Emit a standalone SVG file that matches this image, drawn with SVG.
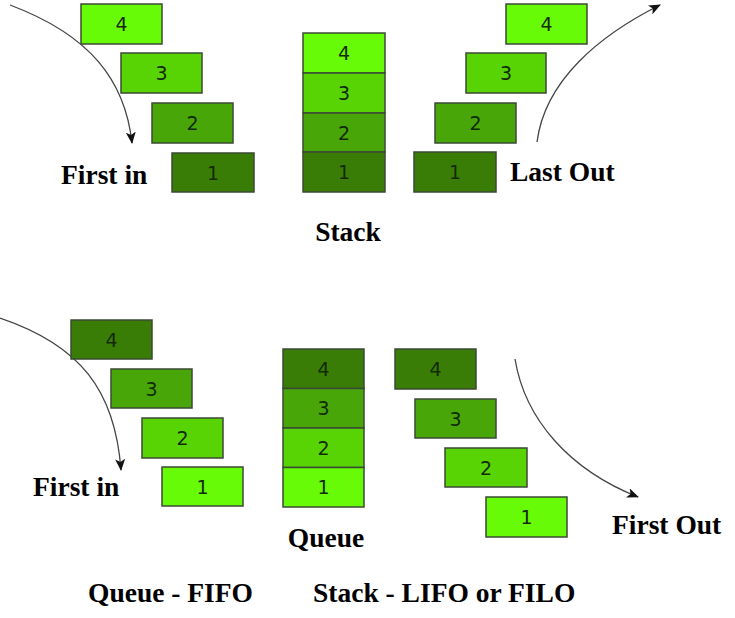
<svg xmlns="http://www.w3.org/2000/svg" width="735" height="618" viewBox="0 0 735 618">
<defs>
<style>
.b{stroke:#3b4a35;stroke-width:1.5}
.c1{fill:#68fb08}.c2{fill:#58d404}.c3{fill:#48a608}.c4{fill:#3a7d06}
.n{font-family:"DejaVu Sans",sans-serif;font-size:19px;fill:#132a05;text-anchor:middle}
.t{font-family:"Liberation Serif","Times New Roman",serif;font-weight:bold;font-size:27.5px;fill:#000}
.a{fill:none;stroke:#444;stroke-width:1.3}
</style>
<marker id="ah" viewBox="0 0 12 10" refX="11" refY="5" markerWidth="12" markerHeight="10" markerUnits="userSpaceOnUse" orient="auto">
<path d="M0,0 L12,5 L0,10 L3,5 Z" fill="#111"/>
</marker>
</defs>
<rect width="735" height="618" fill="#fff"/>

<g id="connectors">
<path class="a" d="M10,5 C90,35 125,80 132,143" marker-end="url(#ah)"/>
<path class="a" d="M537,142 C545,80 600,35 660,5" marker-end="url(#ah)"/>
<path class="a" d="M0,318 C80,345 115,390 121,470" marker-end="url(#ah)"/>
<path class="a" d="M515,359 C525,420 570,470 638,497" marker-end="url(#ah)"/>
</g>

<g id="stack-in">
<g id="si4"><rect class="b c1" x="81" y="4" width="81" height="40"/><text class="n" x="121.5" y="31">4</text></g>
<g id="si3"><rect class="b c2" x="121" y="53" width="81" height="40"/><text class="n" x="161.5" y="80">3</text></g>
<g id="si2"><rect class="b c3" x="152" y="103" width="81" height="40"/><text class="n" x="192.5" y="130">2</text></g>
<g id="si1"><rect class="b c4" x="172" y="153" width="82" height="39"/><text class="n" x="213" y="179.5">1</text></g>
</g>

<g id="stack">
<g id="s4"><rect class="b c1" x="303" y="33" width="82" height="40"/><text class="n" x="344" y="60">4</text></g>
<g id="s3"><rect class="b c2" x="303" y="73" width="82" height="40"/><text class="n" x="344" y="100">3</text></g>
<g id="s2"><rect class="b c3" x="303" y="113" width="82" height="39"/><text class="n" x="344" y="139.5">2</text></g>
<g id="s1"><rect class="b c4" x="303" y="152" width="82" height="40"/><text class="n" x="344" y="179">1</text></g>
</g>

<g id="stack-out">
<g id="so4"><rect class="b c1" x="506" y="4" width="81" height="40"/><text class="n" x="546.5" y="31">4</text></g>
<g id="so3"><rect class="b c2" x="466" y="53" width="80" height="40"/><text class="n" x="506" y="80">3</text></g>
<g id="so2"><rect class="b c3" x="435" y="103" width="81" height="40"/><text class="n" x="475.5" y="130">2</text></g>
<g id="so1"><rect class="b c4" x="414" y="152" width="82" height="40"/><text class="n" x="455" y="179">1</text></g>
</g>

<g id="queue-in">
<g id="qi4"><rect class="b c4" x="71" y="320" width="81" height="39"/><text class="n" x="111.5" y="346.5">4</text></g>
<g id="qi3"><rect class="b c3" x="111" y="369" width="81" height="39"/><text class="n" x="151.5" y="395.5">3</text></g>
<g id="qi2"><rect class="b c2" x="142" y="418" width="81" height="40"/><text class="n" x="182.5" y="445">2</text></g>
<g id="qi1"><rect class="b c1" x="162" y="467" width="81" height="39"/><text class="n" x="202.5" y="493.5">1</text></g>
</g>

<g id="queue">
<g id="q4"><rect class="b c4" x="283" y="349" width="81" height="39.5"/><text class="n" x="323.5" y="375.5">4</text></g>
<g id="q3"><rect class="b c3" x="283" y="388.5" width="81" height="39.5"/><text class="n" x="323.5" y="415">3</text></g>
<g id="q2"><rect class="b c2" x="283" y="428" width="81" height="39.5"/><text class="n" x="323.5" y="454.5">2</text></g>
<g id="q1"><rect class="b c1" x="283" y="467.5" width="81" height="39.5"/><text class="n" x="323.5" y="494">1</text></g>
</g>

<g id="queue-out">
<g id="qo4"><rect class="b c4" x="395" y="349" width="81" height="40"/><text class="n" x="435.5" y="376">4</text></g>
<g id="qo3"><rect class="b c3" x="415" y="399" width="81" height="39"/><text class="n" x="455.5" y="425.5">3</text></g>
<g id="qo2"><rect class="b c2" x="445" y="448" width="82" height="39"/><text class="n" x="486" y="474.5">2</text></g>
<g id="qo1"><rect class="b c1" x="486" y="497" width="81" height="40"/><text class="n" x="526.5" y="524">1</text></g>
</g>

<g id="labels">
<text class="t" x="61" y="184">First in</text>
<text class="t" x="510" y="181">Last Out</text>
<text class="t" x="348" y="241" text-anchor="middle">Stack</text>
<text class="t" x="33" y="496">First in</text>
<text class="t" x="326" y="547" text-anchor="middle">Queue</text>
<text class="t" x="612" y="534">First Out</text>
<text class="t" x="88" y="602">Queue - FIFO</text>
<text class="t" x="313" y="602">Stack - LIFO or FILO</text>
</g>
</svg>
